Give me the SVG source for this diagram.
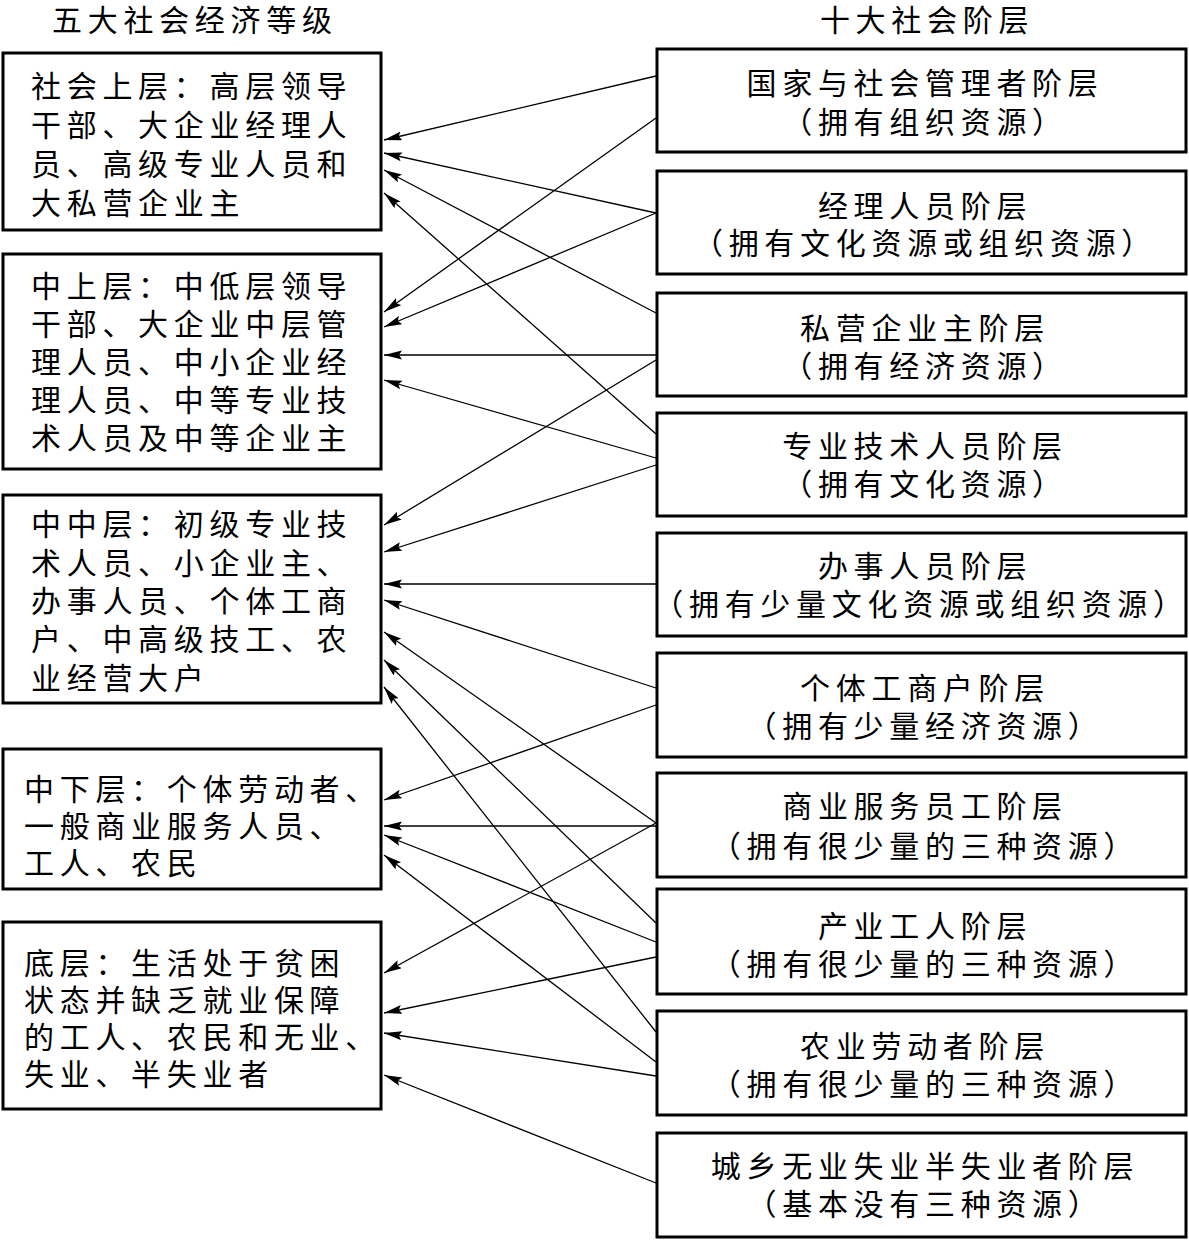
<svg xmlns="http://www.w3.org/2000/svg" width="1189" height="1240" viewBox="0 0 1189 1240">
<style>
.box{fill:#fff;stroke:#000;stroke-width:3}
.t{font-family:"Noto Sans CJK SC","Noto Sans CJK TC",sans-serif;font-size:30px;letter-spacing:5.7px;fill:#000}
.c{text-anchor:middle}
.ln{stroke:#000;stroke-width:1.3;fill:none;marker-end:url(#ah)}
</style>
<defs>
<marker id="ah" markerUnits="userSpaceOnUse" markerWidth="20" markerHeight="10" refX="18" refY="4.5" orient="auto" viewBox="0 0 20 10">
<path d="M0,0 L18,4.5 L0,9 L3,4.5 z" fill="#000"/>
</marker>
</defs>
<rect width="1189" height="1240" fill="#fff"/>
<text class="t" x="52" y="31">五大社会经济等级</text>
<text class="t c" x="927" y="31">十大社会阶层</text>

<g id="L1"><rect class="box" x="3" y="53" width="378" height="177"/>
<text class="t" x="31" y="97">社会上层：高层领导</text>
<text class="t" x="31" y="136">干部、大企业经理人</text>
<text class="t" x="31" y="175">员、高级专业人员和</text>
<text class="t" x="31" y="214">大私营企业主</text></g>

<g id="L2"><rect class="box" x="3" y="254" width="378" height="215"/>
<text class="t" x="31" y="297">中上层：中低层领导</text>
<text class="t" x="31" y="335">干部、大企业中层管</text>
<text class="t" x="31" y="373">理人员、中小企业经</text>
<text class="t" x="31" y="411">理人员、中等专业技</text>
<text class="t" x="31" y="449">术人员及中等企业主</text></g>

<g id="L3"><rect class="box" x="3" y="495" width="378" height="208"/>
<text class="t" x="31" y="535">中中层：初级专业技</text>
<text class="t" x="31" y="574">术人员、小企业主、</text>
<text class="t" x="31" y="612">办事人员、个体工商</text>
<text class="t" x="31" y="650">户、中高级技工、农</text>
<text class="t" x="31" y="689">业经营大户</text></g>

<g id="L4"><rect class="box" x="3" y="749" width="378" height="140"/>
<text class="t" x="24" y="800">中下层：个体劳动者、</text>
<text class="t" x="24" y="837">一般商业服务人员、</text>
<text class="t" x="24" y="874">工人、农民</text></g>

<g id="L5"><rect class="box" x="3" y="922" width="378" height="187"/>
<text class="t" x="24" y="974">底层：生活处于贫困</text>
<text class="t" x="24" y="1011">状态并缺乏就业保障</text>
<text class="t" x="24" y="1048">的工人、农民和无业、</text>
<text class="t" x="24" y="1085">失业、半失业者</text></g>

<g id="R1"><rect class="box" x="657" y="49" width="529" height="103"/>
<text class="t c" x="925" y="94">国家与社会管理者阶层</text>
<text class="t c" x="925" y="133">（拥有组织资源）</text></g>

<g id="R2"><rect class="box" x="657" y="171" width="529" height="103"/>
<text class="t c" x="925" y="217">经理人员阶层</text>
<text class="t c" x="925" y="254">（拥有文化资源或组织资源）</text></g>

<g id="R3"><rect class="box" x="657" y="293" width="529" height="103"/>
<text class="t c" x="925" y="339">私营企业主阶层</text>
<text class="t c" x="925" y="377">（拥有经济资源）</text></g>

<g id="R4"><rect class="box" x="657" y="413" width="529" height="103"/>
<text class="t c" x="925" y="457">专业技术人员阶层</text>
<text class="t c" x="925" y="495">（拥有文化资源）</text></g>

<g id="R5"><rect class="box" x="657" y="533" width="529" height="103"/>
<text class="t c" x="925" y="577">办事人员阶层</text>
<text class="t c" x="921" y="615">（拥有少量文化资源或组织资源）</text></g>

<g id="R6"><rect class="box" x="657" y="653" width="529" height="104"/>
<text class="t c" x="925" y="699">个体工商户阶层</text>
<text class="t c" x="925" y="737">（拥有少量经济资源）</text></g>

<g id="R7"><rect class="box" x="657" y="773" width="529" height="104"/>
<text class="t c" x="925" y="817">商业服务员工阶层</text>
<text class="t c" x="925" y="857">（拥有很少量的三种资源）</text></g>

<g id="R8"><rect class="box" x="657" y="889" width="529" height="105"/>
<text class="t c" x="925" y="937">产业工人阶层</text>
<text class="t c" x="925" y="975">（拥有很少量的三种资源）</text></g>

<g id="R9"><rect class="box" x="657" y="1011" width="529" height="104"/>
<text class="t c" x="925" y="1057">农业劳动者阶层</text>
<text class="t c" x="925" y="1095">（拥有很少量的三种资源）</text></g>

<g id="R10"><rect class="box" x="657" y="1133" width="529" height="104"/>
<text class="t c" x="925" y="1177">城乡无业失业半失业者阶层</text>
<text class="t c" x="925" y="1215">（基本没有三种资源）</text></g>

<g id="connectors">
<line class="ln" x1="656" y1="76" x2="384" y2="140"/>
<line class="ln" x1="656" y1="118" x2="384" y2="312"/>
<line class="ln" x1="656" y1="213" x2="384" y2="153"/>
<line class="ln" x1="656" y1="213" x2="384" y2="327"/>
<line class="ln" x1="656" y1="313" x2="384" y2="170"/>
<line class="ln" x1="656" y1="355" x2="384" y2="355"/>
<line class="ln" x1="656" y1="360" x2="384" y2="525"/>
<line class="ln" x1="656" y1="434" x2="384" y2="193"/>
<line class="ln" x1="656" y1="458" x2="384" y2="380"/>
<line class="ln" x1="656" y1="465" x2="384" y2="552"/>
<line class="ln" x1="656" y1="584" x2="384" y2="584"/>
<line class="ln" x1="656" y1="688" x2="384" y2="600"/>
<line class="ln" x1="656" y1="705" x2="384" y2="800"/>
<line class="ln" x1="656" y1="823" x2="384" y2="632"/>
<line class="ln" x1="656" y1="826" x2="384" y2="826"/>
<line class="ln" x1="656" y1="823" x2="384" y2="973"/>
<line class="ln" x1="656" y1="923" x2="384" y2="660"/>
<line class="ln" x1="656" y1="942" x2="384" y2="835"/>
<line class="ln" x1="656" y1="957" x2="384" y2="1013"/>
<line class="ln" x1="656" y1="1032" x2="384" y2="687"/>
<line class="ln" x1="656" y1="1062" x2="384" y2="855"/>
<line class="ln" x1="656" y1="1076" x2="384" y2="1033"/>
<line class="ln" x1="656" y1="1183" x2="384" y2="1075"/>
</g>
</svg>
